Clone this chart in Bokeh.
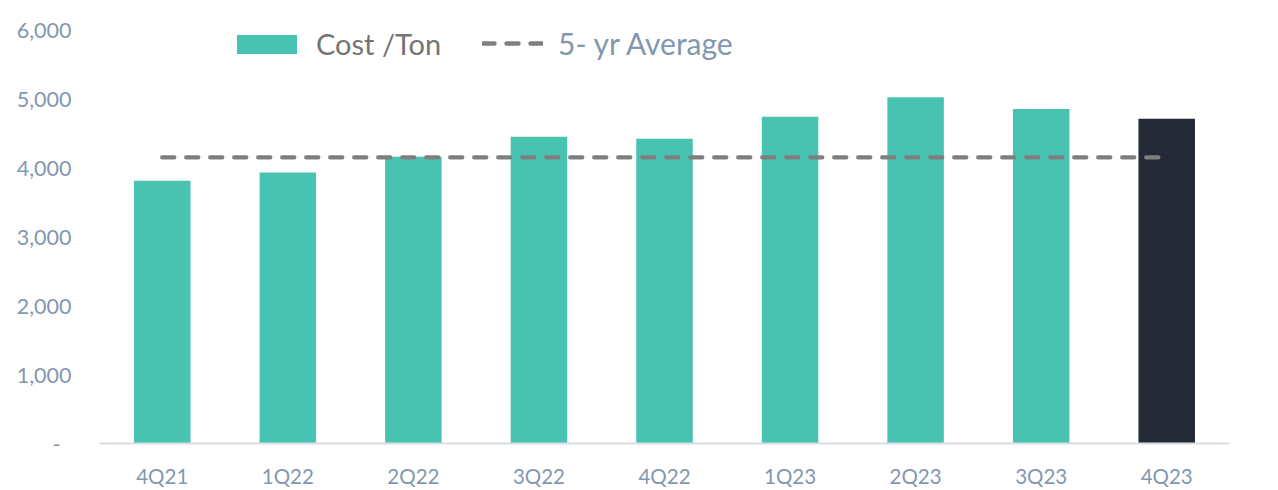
from bokeh.plotting import figure
from bokeh.models import (ColumnDataSource, FactorRange, Range1d, FixedTicker,
                          NumeralTickFormatter, Legend, LegendItem)
from bokeh.embed import file_html
from bokeh.resources import INLINE

# Quarterly cost per ton and its five-year average
quarters = ["4Q21", "1Q22", "2Q22", "3Q22", "4Q22", "1Q23", "2Q23", "3Q23", "4Q23"]
cost_per_ton = [3810, 3930, 4160, 4450, 4420, 4740, 5020, 4850, 4710]
five_yr_average = 4150
y_ticks = [0, 1000, 2000, 3000, 4000, 5000, 6000]

TEAL = "#48C3B1"
NAVY = "#232A35"
GREY = "#7F7F7F"
SLATE = "#8497B0"
FONT = "Lato"

# latest quarter is highlighted in the dark colour
bar_colors = [TEAL] * (len(quarters) - 1) + [NAVY]

src = ColumnDataSource(dict(q=quarters, cost=cost_per_ton, color=bar_colors))
avg_src = ColumnDataSource(dict(q=quarters, avg=[five_yr_average] * len(quarters)))

# headroom above the 6,000 tick leaves space for the legend row
p = figure(width=1278, height=490, x_range=FactorRange(*quarters, range_padding=0),
           y_range=Range1d(0, 6396), output_backend="svg", toolbar_location=None,
           min_border_left=99, min_border_right=49, min_border_top=2, min_border_bottom=47)

bars = p.vbar(x="q", top="cost", width=0.45, color="color", source=src, line_color=None)
avg_line = p.line(x="q", y="avg", source=avg_src, line_color=GREY, line_width=4.4,
                  line_dash="12 12", line_cap="round")

p.outline_line_color = None
p.xgrid.grid_line_color = None
p.ygrid.grid_line_color = None
p.background_fill_color = "white"
p.border_fill_color = "white"

# y axis: labels only, zero shown as a dash
yax = p.yaxis[0]
yax.ticker = FixedTicker(ticks=y_ticks)
yax.formatter = NumeralTickFormatter(format="0,0")
yax.major_label_overrides = {0: "-\u00a0\u00a0"}
yax.axis_line_color = None
yax.major_tick_line_color = None
yax.minor_tick_line_color = None
yax.major_label_text_font = FONT
yax.major_label_text_font_size = "21.5px"
yax.major_label_text_color = SLATE
yax.major_label_standoff = 22

xax = p.xaxis[0]
xax.axis_line_color = "#D9DEE6"
xax.axis_line_width = 2
xax.major_tick_line_color = None
xax.minor_tick_line_color = None
xax.major_label_text_font = FONT
xax.major_label_text_font_size = "20.5px"
xax.major_label_text_color = SLATE
xax.major_label_standoff = 14

# two legends so each label keeps its own colour
common = dict(orientation="horizontal", background_fill_alpha=0, border_line_color=None,
              padding=0, margin=0, spacing=0, glyph_height=24, label_height=24,
              label_text_font=FONT)
leg_cost = Legend(items=[LegendItem(label="Cost /Ton", renderers=[bars], index=0)],
                  location=(130, 382), glyph_width=75, label_standoff=12,
                  label_text_color="#747474", label_text_font_size="29px", **common)
leg_avg = Legend(items=[LegendItem(label="5- yr Average", renderers=[avg_line])],
                 location=(383, 382), glyph_width=61, label_standoff=15,
                 label_text_color=SLATE, label_text_font_size="30px", **common)
p.add_layout(leg_cost)
p.add_layout(leg_avg)

open("out.html", "w").write(file_html(p, INLINE))
